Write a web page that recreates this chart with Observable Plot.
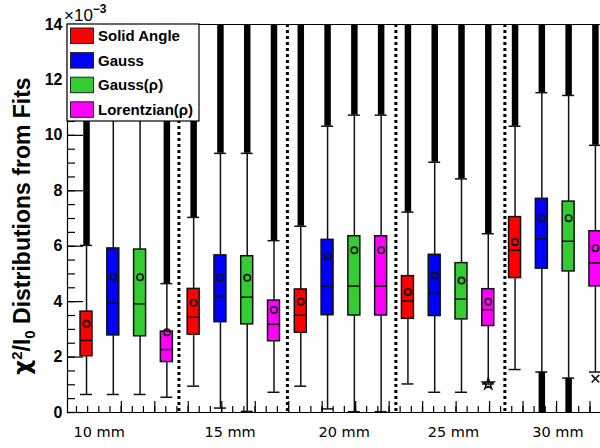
<!DOCTYPE html>
<html><head><meta charset="utf-8">
<script src="https://cdn.jsdelivr.net/npm/d3@7"></script>
<script src="https://cdn.jsdelivr.net/npm/@observablehq/plot@0.6"></script>
<style>
html,body{margin:0;padding:0;background:#fff;}
#chart{width:600px;height:448px;position:relative;}
</style></head><body><div id="chart"></div>
<script>
// ---- data (values in units of 1e-3) ----
const groups = ["10 mm", "15 mm", "20 mm", "25 mm", "30 mm"];
const methods = ["Solid Angle", "Gauss", "Gauss(\u03c1)", "Lorentzian(\u03c1)"];
const colors = ["#ff0000", "#0000ff", "#33cc33", "#ff00ff"];
// boxes ordered group by group: SolidAngle, Gauss, Gauss(rho), Lorentzian(rho)
const whiskLo = [0.65, 0.65, 0.65, 0.55,  0.95, 0.16, 0.04, 0.73,  0.95, 0.13, 0.03, 0.03,  1.03, 0.73, 0.73, 1.03,  1.55, 1.46, 1.24, 1.46];
const q1      = [2.03, 2.78, 2.75, 1.82,  2.81, 3.26, 3.18, 2.57,  2.88, 3.51, 3.50, 3.50,  3.38, 3.48, 3.36, 3.12,  4.85, 5.19, 5.09, 4.55];
const median  = [2.60, 3.95, 3.92, 2.27,  3.44, 4.20, 4.16, 3.18,  3.51, 4.56, 4.56, 4.56,  4.02, 4.31, 4.09, 3.71,  5.85, 6.27, 6.18, 5.40];
const q3      = [3.64, 5.92, 5.88, 2.92,  4.46, 5.67, 5.64, 4.04,  4.44, 6.23, 6.36, 6.36,  4.92, 5.69, 5.39, 4.45,  7.05, 7.71, 7.61, 6.54];
const mean    = [3.20, 4.90, 4.88, 2.90,  3.96, 4.88, 4.86, 3.70,  4.00, 5.64, 5.85, 5.85,  4.35, 4.94, 4.76, 4.00,  6.15, 7.01, 7.01, 5.93];
const whiskHi = [6.03, 10.9, 10.9, 4.65,  7.04, 9.35, 9.35, 6.20,  6.72, 10.33, 10.73, 10.73,  7.23, 9.03, 8.43, 6.45,  10.33, 11.54, 11.44, 9.64];
const outlierTop = [14, 14, 14, 14,  14, 14, 14, 14,  14, 14, 14, 14,  14, 14, 14, 14,  14, 14, 14, 14];
const outlierBottom = [null, null, null, null,  null, null, null, null,  null, null, null, null,  null, null, null, null,  null, 0, 0, null];
const singleOutliers = [{box: 15, value: 1.03, symbol: "star"}, {box: 19, value: 1.22, symbol: "times"}];
const separators = [3.45, 7.5, 11.55, 15.62];
const labelAt = [0.47, 5.36, 9.62, 13.7, 17.6];
const yMajor = [0, 2, 4, 6, 8, 10, 12, 14];
const yMinor = d3.range(0, 14.001, 0.5);
const xMajor = [1.3, 2.55, 3.8, 5.05, 6.3, 7.55, 8.8, 10.05, 11.3, 12.55, 13.8, 15.05, 16.3, 17.55, 18.8];
const xMinor = d3.range(-0.375, 19.2, 0.4167);

const boxes = d3.range(20).map(i => ({
  i, m: i % 4, g: Math.floor(i / 4),
  lo: whiskLo[i], q1: q1[i], med: median[i], q3: q3[i], mean: mean[i], hi: whiskHi[i],
  top: outlierTop[i], bottom: outlierBottom[i], fill: colors[i % 4]
}));
const labels = groups.map((g, k) => ({g, x: labelAt[k]}));
const singles = singleOutliers.map(d => ({x: d.box, y: d.value, symbol: d.symbol}));

const W = 600, H = 448, ML = 67, MT = 24, MB = 36;
const boxInset = 7.4;

const chart = Plot.plot({
  width: W, height: H,
  marginLeft: ML, marginRight: 0, marginTop: MT, marginBottom: MB,
  style: {fontFamily: "'Liberation Sans', Arial, Helvetica, sans-serif", background: "white", overflow: "visible"},
  x: {domain: [-0.71, 19.19], axis: null},
  y: {domain: [0, 14], axis: null},
  symbol: {type: "identity"},
  marks: [
    // group separators
    Plot.ruleX(separators, {stroke: "black", strokeWidth: 3, strokeDasharray: "3,3"}),
    // outliers (dense columns)
    Plot.ruleX(boxes, {x: "i", y1: "hi", y2: "top", stroke: "black", strokeWidth: 6.5}),
    Plot.ruleX(boxes.filter(d => d.bottom != null), {x: "i", y1: "bottom", y2: "lo", stroke: "black", strokeWidth: 6.5}),
    // whiskers
    Plot.ruleX(boxes, {x: "i", y1: "lo", y2: "hi", stroke: "#111", strokeWidth: 1.5}),
    Plot.ruleY(boxes, {x1: d => d.i - 0.5, x2: d => d.i + 0.5, y: "lo", insetLeft: boxInset, insetRight: boxInset, stroke: "#111", strokeWidth: 1.5}),
    Plot.ruleY(boxes, {x1: d => d.i - 0.5, x2: d => d.i + 0.5, y: "hi", insetLeft: boxInset, insetRight: boxInset, stroke: "#111", strokeWidth: 1.5}),
    // boxes
    Plot.rect(boxes, {x1: d => d.i - 0.5, x2: d => d.i + 0.5, y1: "q1", y2: "q3", fill: "fill", stroke: "#111", strokeWidth: 1.5, insetLeft: boxInset, insetRight: boxInset}),
    Plot.ruleY(boxes, {x1: d => d.i - 0.5, x2: d => d.i + 0.5, y: "med", insetLeft: boxInset, insetRight: boxInset, stroke: "#111", strokeWidth: 1.5}),
    Plot.dot(boxes, {x: "i", y: "mean", r: 3.2, stroke: "#111", strokeWidth: 1.6, fill: "none"}),
    Plot.dot(singles, {x: "x", y: "y", symbol: "symbol", r: 3.5, stroke: "#111", strokeWidth: 1.6}),
    // frame (left, bottom, top)
    Plot.frame({anchor: "left", stroke: "black", strokeWidth: 1.2}),
    Plot.frame({anchor: "bottom", stroke: "black", strokeWidth: 1.2}),
    Plot.frame({anchor: "top", stroke: "black", strokeWidth: 1.2}),
    // y ticks (inside)
    Plot.tickY(yMajor, {y: d => d, stroke: "black", strokeWidth: 1.2, insetRight: W - ML - 16}),
    Plot.tickY(yMinor, {y: d => d, stroke: "black", strokeWidth: 1.2, insetRight: W - ML - 8}),
    // x ticks (inside)
    Plot.tickX(xMajor, {x: d => d, stroke: "black", strokeWidth: 1.2, insetTop: H - MT - MB - 11}),
    Plot.tickX(xMinor.filter(v => v > -0.71), {x: d => d, stroke: "black", strokeWidth: 1.2, insetTop: H - MT - MB - 6}),
    // y tick labels
    Plot.axisY(yMajor, {tickSize: 0, tickPadding: 5, fontSize: 16, fontWeight: "bold", tickFormat: d => String(d)}),
    // group labels
    Plot.text(labels, {x: "x", text: "g", frameAnchor: "bottom", dy: 24, fontSize: 14.5, fontFamily: "'DejaVu Sans', sans-serif", fill: "black"})
  ]
});

document.getElementById("chart").appendChild(chart);
const svg = d3.select(chart);

// legend (drawn over the plot area, as in the reference)
const lg = svg.append("g").attr("text-anchor", "start");
lg.append("rect").attr("x", 67).attr("y", 24).attr("width", 132).attr("height", 97).attr("fill", "white").attr("stroke", "black").attr("stroke-width", 1.2);
methods.forEach((m, k) => {
  const y = 28 + k * 24.6;
  lg.append("rect").attr("x", 70.5).attr("y", y).attr("width", 23).attr("height", 15.5).attr("fill", colors[k]).attr("stroke", "#222").attr("stroke-width", 1);
  lg.append("text").attr("x", 98).attr("y", y + 13).attr("font-size", 15).attr("font-weight", "bold").attr("fill", "black").attr("text-anchor", "start").text(m);
});

// exponent label
const ex = svg.append("text").attr("x", 64).attr("y", 21).attr("text-anchor", "start").attr("font-size", 17).attr("fill", "black");
ex.append("tspan").text("\u00d710");
ex.append("tspan").attr("dy", -8).attr("font-size", 12).attr("font-weight", "bold").text("\u22123");

// y title
const yt = svg.append("text")
  .attr("transform", "translate(30," + 226 + ") rotate(-90)")
  .attr("text-anchor", "middle").attr("font-size", 23).attr("font-weight", "bold").attr("fill", "black");
yt.append("tspan").attr("font-family", "'DejaVu Sans', sans-serif").text("\u03c7");
yt.append("tspan").attr("dy", -8).attr("font-size", 15).text("2");
yt.append("tspan").attr("dy", 8).text("/I");
yt.append("tspan").attr("dy", 5).attr("font-size", 15).text("0");
yt.append("tspan").attr("dy", -5).text(" Distributions from Fits");
</script></body></html>
